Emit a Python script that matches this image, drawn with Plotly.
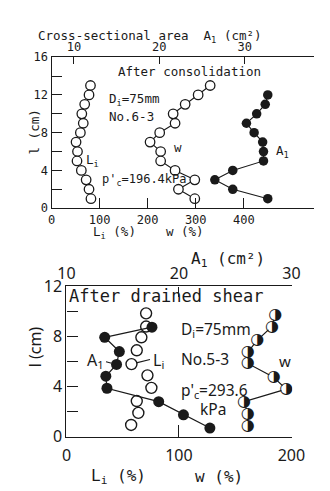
import plotly.graph_objects as go

W, H = 330, 491
def px(x): return x / W
def py(y): return 1 - y / H

MONO = "DejaVu Sans Mono"
SANS = "Noto Sans"
INK = "#1a1a1a"

# ---------------- data: top panel (after consolidation) ----------------
top_l = [13, 12, 11, 10, 9, 8, 7, 6, 5, 4, 3, 2, 1]
top_Li = [81, 78, 69, 63, 66, 60, 51, 54, 53, 62, 72, 78, 82]
top_w = [330, 305, 278, 253, 257, 225, 205, 227, 227, 257, 298, 264, 298]
top_A1_l = [12, 11, 10, 9, 8, 7, 6, 5, 4, 3, 2, 1]
top_A1 = [32.7, 32.4, 31.4, 30.2, 31.1, 32.1, 32.2, 32.2, 28.6, 26.5, 28.6, 32.7]

# ---------------- data: bottom panel (after drained shear) ----------------
bot_Li_l = [9.85, 8.8, 7.94, 6.9, 5.8, 4.9, 3.9, 2.85, 1.9, 0.94]
bot_Li = [70.8, 70.8, 66.6, 62.5, 57.8, 72, 75.5, 62.5, 63.9, 57.5]
bot_A1_l = [8.75, 7.94, 6.8, 5.77, 4.83, 3.87, 2.8, 1.75, 0.69]
bot_A1 = [17.6, 13.4, 14.7, 14.45, 13.5, 13.6, 18.2, 20.4, 22.75]
bot_w_l = [9.7, 8.8, 7.7, 6.75, 5.85, 4.75, 3.8, 2.8, 1.83, 0.86]
bot_w = [185.6, 182.8, 169.5, 161.2, 161.2, 184.2, 195.3, 157.9, 161.2, 161.2]

# tick values / labels
top_x_ticks = [0, 100, 200, 300, 400]
top_A_ticks = [10, 20, 30]
top_y_ticks = [0, 2, 4, 6, 8, 10, 12, 14, 16]
bot_x_ticks = [0, 100, 200]
bot_A_ticks = [10, 20, 30]
bot_y_ticks = [0, 2, 4, 6, 8, 10, 12]

def ylabels(vals):
    return [str(v) if v % 4 == 0 else "" for v in vals]

HALF = "\u25D1"

fig = go.Figure()

# ---- top panel traces ----
fig.add_trace(go.Scatter(x=top_Li, y=top_l, xaxis="x", yaxis="y", mode="markers",
                         marker=dict(symbol="circle", size=9.5, color="white",
                                     line=dict(color=INK, width=1.3))))
fig.add_trace(go.Scatter(x=top_w, y=top_l, xaxis="x", yaxis="y", mode="lines+markers",
                         line=dict(color=INK, width=1.1),
                         marker=dict(symbol="circle", size=9.5, color="white",
                                     line=dict(color=INK, width=1.3))))
fig.add_trace(go.Scatter(x=top_A1, y=top_A1_l, xaxis="x2", yaxis="y", mode="lines+markers",
                         line=dict(color=INK, width=1.1),
                         marker=dict(symbol="circle", size=9.5, color=INK)))

# ---- bottom panel traces ----
fig.add_trace(go.Scatter(x=bot_Li, y=bot_Li_l, xaxis="x3", yaxis="y2", mode="markers",
                         marker=dict(symbol="circle", size=11, color="white",
                                     line=dict(color=INK, width=1.4))))
fig.add_trace(go.Scatter(x=bot_A1, y=bot_A1_l, xaxis="x4", yaxis="y2", mode="lines+markers",
                         line=dict(color=INK, width=1.2),
                         marker=dict(symbol="circle", size=11, color=INK)))
fig.add_trace(go.Scatter(x=bot_w, y=bot_w_l, xaxis="x3", yaxis="y2", mode="lines+markers",
                         line=dict(color=INK, width=1.2),
                         marker=dict(symbol="circle", size=10, color="white",
                                     line=dict(color=INK, width=0))))
fig.add_trace(go.Scatter(x=bot_w, y=bot_w_l, xaxis="x3", yaxis="y2", mode="text",
                         text=[HALF] * len(bot_w), textposition="middle center",
                         textfont=dict(family="DejaVu Sans", size=16, color=INK)))

axis_common = dict(showgrid=False, zeroline=False, showline=True, linecolor=INK,
                   linewidth=1.3, ticks="inside", tickcolor=INK, tickwidth=1.3,
                   fixedrange=True)

fig.update_layout(
    width=W, height=H, margin=dict(l=0, r=0, t=0, b=0),
    paper_bgcolor="white", plot_bgcolor="white", showlegend=False,
    font=dict(family=MONO, color=INK),
    xaxis=dict(axis_common, domain=[px(37), px(318)], range=[0, 545.6], anchor="y",
               side="bottom", tickvals=top_x_ticks, ticklen=10,
               tickfont=dict(family=MONO, size=12)),
    xaxis2=dict(axis_common, domain=[px(37), px(318)], range=[7.377, 38.09], anchor="y",
                overlaying="x", side="top", tickvals=top_A_ticks, ticklen=7,
                tickfont=dict(family=MONO, size=12)),
    yaxis=dict(axis_common, domain=[py(198), py(40)], range=[0, 16], anchor="x",
               tickvals=top_y_ticks, ticktext=ylabels(top_y_ticks), ticklen=10,
               tickfont=dict(family=MONO, size=12)),
    xaxis3=dict(axis_common, domain=[px(53), px(295)], range=[0, 200.8], anchor="y2",
                side="bottom", tickvals=bot_x_ticks, ticklen=12,
                ticklabelstandoff=4, tickfont=dict(family=SANS, size=16)),
    xaxis4=dict(axis_common, domain=[px(53), px(295)], range=[10, 30.08], anchor="y2",
                overlaying="x3", side="top", tickvals=bot_A_ticks, ticklen=10,
                tickfont=dict(family=SANS, size=16)),
    yaxis2=dict(axis_common, domain=[py(437.3), py(280)], range=[0, 12], anchor="x3",
                tickvals=bot_y_ticks, ticktext=ylabels(bot_y_ticks), ticklen=11,
                tickfont=dict(family=SANS, size=16)),
)

def txt(s, x, y, size, xanchor="left", family=MONO, angle=0):
    fig.add_annotation(text=s, x=px(x), y=py(y), xref="paper", yref="paper",
                       showarrow=False, xanchor=xanchor, yanchor="middle",
                       textangle=angle, font=dict(family=family, size=size, color=INK))

# top panel texts
txt("Cross-sectional area  A<sub>1</sub> (cm\u00b2)", 143, 18, 12.5, "center")
txt("After consolidation", 185, 55, 12.5, "center")
txt("D<sub>i</sub>=75mm", 96, 84, 12.5)
txt("No.6-3", 96, 102, 12.5)
txt("L<sub>i</sub>", 72, 148, 12.5)
txt("w", 166, 135, 12.5)
txt("A<sub>1</sub>", 275, 139, 12.5)
txt("p'<sub>c</sub>=196.4kPa", 89, 169, 12)
txt("l (cm)", 19, 118, 12.5, "center", angle=-90)
txt("L<sub>i</sub> (%)", 104, 223, 12.5, "center")
txt("w (%)", 180, 222, 12.5, "center")

# bottom panel texts
txt("A<sub>1</sub> (cm\u00b2)", 226, 252, 16, "center", family=MONO)
txt("After drained shear", 160, 290, 17, "center", family=MONO)
txt("D<sub>i</sub>=75mm", 174, 325, 15.5, family=SANS)
txt("No.5-3", 174, 356, 15.5, family=SANS)
txt("p'<sub>c</sub>=293.6", 174, 389, 15.5, family=SANS)
txt("kPa", 194, 408, 15.5, family=SANS)
txt("w", 279, 358, 15, family=SANS)
txt("A<sub>1</sub>", 73, 358, 16, family=SANS)
txt("L<sub>i</sub>", 144, 358, 16, family=SANS)
txt("l (cm)", 19, 343, 16, "center", family=SANS, angle=-90)
txt("L<sub>i</sub> (%)", 109, 479, 16, "center", family=MONO)
txt("w (%)", 216, 479, 16, "center", family=MONO)

# pointer lines
fig.add_annotation(x=bot_Li[4], y=bot_Li_l[4], xref="x3", yref="y2", text="",
                   showarrow=True, arrowhead=0, arrowwidth=1.1, arrowcolor=INK,
                   ax=20, ay=-5, standoff=5)
fig.add_annotation(x=bot_A1[3], y=bot_A1_l[3], xref="x4", yref="y2", text="",
                   showarrow=True, arrowhead=0, arrowwidth=1.1, arrowcolor=INK,
                   ax=-12, ay=-3, standoff=5)

fig.write_html("out.html")
